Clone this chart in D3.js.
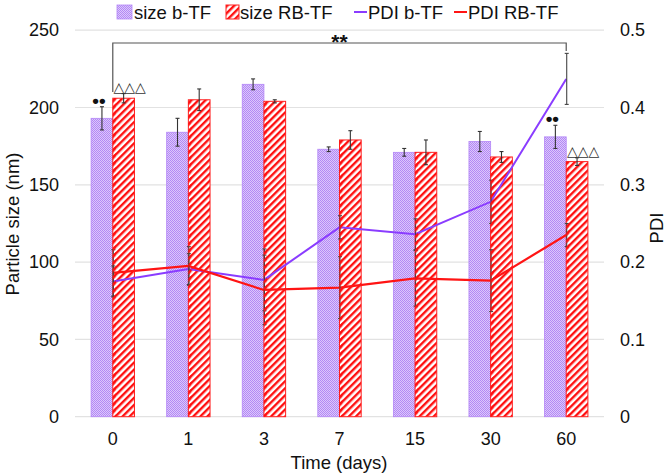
<!DOCTYPE html>
<html>
<head>
<meta charset="utf-8">
<script src="https://cdn.jsdelivr.net/npm/d3@7/dist/d3.min.js"></script>
<style>
  body { margin: 0; background: #fff; }
  text { font-family: "Liberation Sans", Arial, sans-serif; fill: #111; }
</style>
</head>
<body>
<div id="chart-container"></div>
<script>
// values
let days = ["0", "1", "3", "7", "15", "30", "60"];
let sizeB = [193, 184, 215, 173, 171, 178, 181];
let sizeBErr = [7.5, 9, 3.5, 1.5, 2.5, 6.5, 7.5];
let sizeRB = [206, 205, 204, 179, 171, 168, 165];
let sizeRBErr = [3, 7, 1, 6, 8, 3.5, 2.5];
let pdiB = [0.175, 0.191, 0.177, 0.245, 0.236, 0.278, 0.437];
let pdiBErr = [0.02, 0.02, 0.04, 0.015, 0.02, 0.028, 0.033];
let pdiRB = [0.186, 0.195, 0.164, 0.167, 0.179, 0.176, 0.235];
let pdiRBErr = [0.03, 0.025, 0.045, 0.04, 0.036, 0.04, 0.015];
let sizeTicks = [0, 50, 100, 150, 200, 250];
let pdiTicks = [0, 0.1, 0.2, 0.3, 0.4, 0.5];
let dotsAt = [0, 6];   // "••" above size b-TF
let triAt = [0, 6];    // "△△△" above size RB-TF

let width = 667;
let height = 474;

var svg = d3
  .select("#chart-container")
  .append("svg")
  .attr("width", width)
  .attr("height", height);

// patterns
var defs = svg.append("defs");
var dots = defs.append("pattern")
  .attr("id", "dots")
  .attr("patternUnits", "userSpaceOnUse")
  .attr("width", 2).attr("height", 2);
dots.append("rect").attr("width", 2).attr("height", 2).attr("fill", "#dcc8fb");
dots.append("rect").attr("width", 1).attr("height", 1).attr("fill", "#b388f5");
dots.append("rect").attr("x", 1).attr("y", 1).attr("width", 1).attr("height", 1).attr("fill", "#b388f5");

function makeHatch(id, bg) {
  var p = defs.append("pattern")
    .attr("id", id)
    .attr("patternUnits", "userSpaceOnUse")
    .attr("width", 5).attr("height", 5)
    .attr("patternTransform", "rotate(45)");
  if (bg) p.append("rect").attr("width", 5).attr("height", 5).attr("fill", bg);
  p.append("rect").attr("width", 2.4).attr("height", 5).attr("fill", "#ff1010");
}
makeHatch("hatch", "#fff");
makeHatch("hatchOnly", null);

// scales
let xScale = d3.scaleBand().domain(days).range([75, 604]).paddingInner(0.426).paddingOuter(0.213);
let xSub = d3.scaleBand().domain(["b", "rb"]).range([0, xScale.bandwidth()]);
let center = (i) => xScale(days[i]) + xScale.bandwidth() / 2;
let yScale = d3.scaleLinear().domain([0, 250]).range([416.7, 30.2]);
let y2Scale = d3.scaleLinear().domain([0, 0.5]).range([416.7, 30.2]);

// gridlines
svg.append("g")
  .selectAll("line")
  .data(sizeTicks)
  .enter()
  .append("line")
  .attr("x1", 75).attr("x2", 604)
  .attr("y1", (d) => yScale(d)).attr("y2", (d) => yScale(d))
  .style("stroke", "#e2e2e2")
  .style("stroke-width", 1.2);

// left axis
svg.append("g")
  .attr("transform", "translate(67,0)")
  .call(d3.axisLeft(yScale).tickValues(sizeTicks).tickSize(0).tickPadding(8))
  .call((g) => g.select(".domain").remove())
  .selectAll("text")
  .style("font-size", "18px");

// right axis
svg.append("g")
  .attr("transform", "translate(612,0)")
  .call(d3.axisRight(y2Scale).tickValues(pdiTicks).tickSize(0).tickPadding(8).tickFormat((d) => d === 0 ? "0" : d3.format(".1f")(d)))
  .call((g) => g.select(".domain").remove())
  .selectAll("text")
  .style("font-size", "18px");

// x axis
svg.append("g")
  .attr("transform", "translate(0,424)")
  .call(d3.axisBottom(xScale).tickSize(0).tickPadding(8))
  .call((g) => g.select(".domain").remove())
  .selectAll("text")
  .style("font-size", "18px");

// bars
var bars = svg.append("g");
bars.selectAll(".barB")
  .data(sizeB)
  .enter()
  .append("rect")
  .attr("x", (d, i) => xScale(days[i]) + xSub("b"))
  .attr("y", (d) => yScale(d))
  .attr("width", xSub.bandwidth())
  .attr("height", (d) => yScale(0) - yScale(d))
  .style("fill", "url(#dots)")
  .style("stroke", "#b487f7")
  .style("stroke-width", 0.8);

bars.selectAll(".barRB")
  .data(sizeRB)
  .enter()
  .append("rect")
  .attr("x", (d, i) => xScale(days[i]) + xSub("rb"))
  .attr("y", (d) => yScale(d))
  .attr("width", xSub.bandwidth())
  .attr("height", (d) => yScale(0) - yScale(d))
  .style("fill", "url(#hatch)")
  .style("stroke", "#ff2020")
  .style("stroke-width", 1);

// error bars helper
function errorBars(vals, errs, xf, scale, color) {
  var g = svg.append("g").style("stroke", color).style("stroke-width", 1.1);
  vals.forEach((v, i) => {
    let x = xf(i);
    let y1 = scale(v + errs[i]);
    let y0 = scale(v - errs[i]);
    g.append("line").attr("x1", x).attr("x2", x).attr("y1", y1).attr("y2", y0);
    g.append("line").attr("x1", x - 2).attr("x2", x + 2).attr("y1", y1).attr("y2", y1);
    g.append("line").attr("x1", x - 2).attr("x2", x + 2).attr("y1", y0).attr("y2", y0);
  });
}

let bCenter = (i) => xScale(days[i]) + xSub("b") + xSub.bandwidth() / 2;
let rbCenter = (i) => xScale(days[i]) + xSub("rb") + xSub.bandwidth() / 2;
errorBars(sizeB, sizeBErr, bCenter, yScale, "#333");
errorBars(sizeRB, sizeRBErr, rbCenter, yScale, "#333");

// PDI lines
let lineB = d3.line().x((d, i) => center(i)).y((d) => y2Scale(d));
svg.append("path")
  .datum(pdiB)
  .attr("d", lineB)
  .style("fill", "none")
  .style("stroke", "#8a3cff")
  .style("stroke-width", 2);
svg.append("path")
  .datum(pdiRB)
  .attr("d", lineB)
  .style("fill", "none")
  .style("stroke", "#ff1414")
  .style("stroke-width", 2.2);

let pdiX = (i) => center(i) + 0.5;
errorBars(pdiB, pdiBErr, pdiX, y2Scale, "#444");
errorBars(pdiRB, pdiRBErr, pdiX, y2Scale, "#444");

// red stripes laid back over the PDI error bars inside the RB-TF bars
svg.append("g")
  .selectAll("rect")
  .data(sizeRB)
  .enter()
  .append("rect")
  .attr("x", (d, i) => xScale(days[i]) + xSub("rb"))
  .attr("y", (d) => yScale(d))
  .attr("width", 3)
  .attr("height", (d) => yScale(0) - yScale(d))
  .style("fill", "url(#hatchOnly)");

// significance bracket
let xa = center(0), xb = center(days.length - 1);
svg.append("path")
  .attr("d", `M${xa},92 L${xa},43 L${xb},43 L${xb},51`)
  .style("fill", "none")
  .style("stroke", "#555")
  .style("stroke-width", 1.2);
svg.append("text")
  .attr("x", (xa + xb) / 2)
  .attr("y", 49)
  .style("text-anchor", "middle")
  .style("font-size", "21px")
  .style("font-weight", "bold")
  .text("**");

// markers
svg.append("g")
  .selectAll("text")
  .data(dotsAt)
  .enter()
  .append("text")
  .attr("x", (i) => bCenter(i) - 3)
  .attr("y", (i) => yScale(sizeB[i] + sizeBErr[i]))
  .style("text-anchor", "middle")
  .style("font-size", "19px")
  .style("font-weight", "bold")
  .text("••");

svg.append("g")
  .selectAll("text")
  .data(triAt)
  .enter()
  .append("text")
  .attr("x", (i) => rbCenter(i) + 6)
  .attr("y", (i) => yScale(sizeRB[i] + sizeRBErr[i]) - 2)
  .style("text-anchor", "middle")
  .style("font-family", "DejaVu Sans")
  .style("font-size", "14px")
  .style("fill", "#333")
  .text("△△△");

// axis titles
svg.append("text")
  .attr("transform", "rotate(-90)")
  .attr("x", -224)
  .attr("y", 19)
  .style("text-anchor", "middle")
  .style("font-size", "18.5px")
  .text("Particle size (nm)");

svg.append("text")
  .attr("transform", "rotate(-90)")
  .attr("x", -228)
  .attr("y", 663)
  .style("text-anchor", "middle")
  .style("font-size", "18.5px")
  .text("PDI");

svg.append("text")
  .attr("x", 339)
  .attr("y", 469)
  .style("text-anchor", "middle")
  .style("font-size", "18.5px")
  .text("Time (days)");

// legend
var legend = svg.append("g").attr("transform", "translate(0,12)");
legend.append("rect").attr("x", 117).attr("y", -7).attr("width", 15).attr("height", 14)
  .style("fill", "url(#dots)").style("stroke", "#b487f7").style("stroke-width", 0.8);
legend.append("text").attr("x", 134).attr("y", 6.5).style("font-size", "18.5px").text("size b-TF");
legend.append("rect").attr("x", 226).attr("y", -7).attr("width", 13).attr("height", 14)
  .style("fill", "url(#hatch)").style("stroke", "#ff2020");
legend.append("text").attr("x", 240).attr("y", 6.5).style("font-size", "18.5px").text("size RB-TF");
legend.append("line").attr("x1", 354).attr("x2", 367).attr("y1", 0).attr("y2", 0)
  .style("stroke", "#8a3cff").style("stroke-width", 2);
legend.append("text").attr("x", 368).attr("y", 6.5).style("font-size", "18.5px").text("PDI b-TF");
legend.append("line").attr("x1", 454).attr("x2", 467).attr("y1", 0).attr("y2", 0)
  .style("stroke", "#ff1414").style("stroke-width", 2);
legend.append("text").attr("x", 468).attr("y", 6.5).style("font-size", "18.5px").text("PDI RB-TF");
</script>
</body>
</html>
